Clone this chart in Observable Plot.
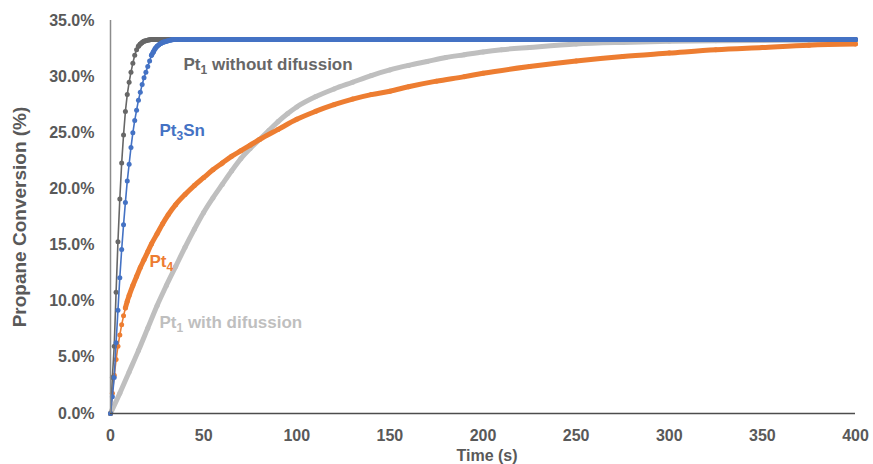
<!DOCTYPE html>
<html>
<head>
<meta charset="utf-8">
<script src="https://cdn.jsdelivr.net/npm/d3@7"></script>
<script src="https://cdn.jsdelivr.net/npm/@observablehq/plot@0.6"></script>
<style>
  html, body { margin: 0; padding: 0; background: #fff; }
</style>
</head>
<body>
<div id="chart"></div>
<script>
// ---- Data ----
// Pt1 without difussion
const pt1NoDiffTime = [0,1,2,3,4,5,6,7,8,9,10,11,12,13,14,15,16,17,18,19,20,21,22,23,24,25,30,40,60,100,150,200,250,300,350,400];
const pt1NoDiffConv = [0,3.2,6.0,10.8,15.3,19.1,22.3,24.8,26.9,28.4,29.5,30.4,31.2,31.9,32.4,32.7,32.9,33.05,33.15,33.2,33.25,33.28,33.3,33.3,33.3,33.3,33.3,33.3,33.3,33.3,33.3,33.3,33.3,33.3,33.3,33.3];

// Pt3Sn
const pt3SnTime = [0,1,2,3,4,5,6,7,8,9,10,11,12,13,14,15,16,17,18,19,20,21,22,23,24,25,26,27,28,29,30,31,32,33,34,35,40,50,60,100,150,200,250,300,350,400];
const pt3SnConv = [0,1.5,3.2,6.3,9.2,12.1,14.6,16.8,18.8,20.7,22.2,23.7,25.0,26.1,27.0,27.9,28.6,29.3,29.9,30.4,30.9,31.4,31.9,32.2,32.5,32.7,32.85,32.95,33.05,33.1,33.15,33.2,33.25,33.28,33.3,33.3,33.3,33.3,33.3,33.3,33.3,33.3,33.3,33.3,33.3,33.3];

// Pt4
const pt4Time = [0,1,2,3,4,5,6,7,8,9,10,12,14,16,18,20,22,25,28,31,35,40,45,50,55,60,65,70,75,80,90,100,110,120,130,140,150,160,175,190,200,225,250,275,300,325,350,375,400];
const pt4Conv = [0,1.8,3.4,4.8,6.0,7.0,7.9,8.7,9.4,10.0,10.5,11.4,12.2,13.0,13.7,14.4,15.1,16.0,16.9,17.7,18.6,19.5,20.3,21.0,21.7,22.3,22.9,23.4,23.9,24.4,25.3,26.2,26.9,27.5,28.0,28.4,28.7,29.1,29.6,30.0,30.3,30.9,31.4,31.8,32.1,32.4,32.6,32.8,32.9];

// Pt1 with difussion
const pt1DiffTime = [0,5,10,15,20,25,30,35,40,45,50,55,60,65,70,75,80,85,90,95,100,110,120,130,140,150,160,170,180,190,200,210,225,250,275,300,325,350,375,400];
const pt1DiffConv = [0,1.8,3.7,5.6,7.6,9.6,11.4,13.1,14.8,16.4,17.9,19.2,20.4,21.6,22.7,23.6,24.4,25.2,26.0,26.7,27.3,28.2,28.9,29.5,30.1,30.6,31.0,31.35,31.7,31.95,32.2,32.4,32.6,32.9,33.05,33.15,33.2,33.22,33.25,33.27];

// Tick values
const xTicks = [0,50,100,150,200,250,300,350,400];
const yTicks = [0,5,10,15,20,25,30,35];

// ---- Build tables ----
const toRows = (times, vals) => times.map((t, i) => ({t, v: vals[i]}));
const noDiff = toRows(pt1NoDiffTime, pt1NoDiffConv);
const sn = toRows(pt3SnTime, pt3SnConv);
const pt4 = toRows(pt4Time, pt4Conv);
const diff = toRows(pt1DiffTime, pt1DiffConv);

const C = {dark: "#676767", blue: "#4472C4", orange: "#ED7D31", light: "#BFBFBF"};

const labels = [
  {pre: "Pt", sub: "1", post: " without difussion", t: 39.2, v: 31.1, color: C.dark},
  {pre: "Pt", sub: "3", post: "Sn", t: 26.3, v: 25.2, color: C.blue},
  {pre: "Pt", sub: "4", post: "", t: 20.9, v: 13.5, color: C.orange},
  {pre: "Pt", sub: "1", post: " with difussion", t: 26.3, v: 8.1, color: C.light}
];

function seriesMarks(rows, color, thickFrom) {
  return [
    Plot.line(rows, {x: "t", y: "v", stroke: color, strokeWidth: 1.6}),
    Plot.line(rows.filter(d => d.t >= thickFrom), {x: "t", y: "v", stroke: color, strokeWidth: 5, strokeLinecap: "round", strokeLinejoin: "round", curve: "monotone-x"}),
    Plot.dot(rows, {x: "t", y: "v", r: 2.5, fill: color, stroke: "none"})
  ];
}

const plot = Plot.plot({
  width: 873,
  height: 464,
  marginLeft: 110,
  marginRight: 18,
  marginTop: 20,
  marginBottom: 51,
  style: {fontFamily: "'Liberation Sans', Arial, sans-serif", fontSize: "16px", fontWeight: "bold", color: "#595959", background: "#fff"},
  x: {domain: [0, 400], ticks: xTicks, tickSize: 0, tickPadding: 16, label: null},
  y: {domain: [0, 35], ticks: yTicks, tickSize: 0, tickPadding: 16, label: null, tickFormat: d => d.toFixed(1) + "%"},
  marks: [
    ...seriesMarks(diff, C.light, 0),
    ...seriesMarks(pt4, C.orange, 8),
    ...seriesMarks(noDiff, C.dark, 15),
    ...seriesMarks(sn, C.blue, 22),
    Plot.ruleX([0], {stroke: "#8c8c8c", strokeWidth: 1.5}),
    Plot.ruleY([0], {stroke: "#4d4d4d", strokeWidth: 1.5}),
    ...labels.map(l => Plot.text([l], {x: "t", y: "v", text: d => d.pre + d.sub + d.post, fill: l.color, textAnchor: "start", fontSize: 17, fontWeight: "bold"})),
    Plot.text(["Time (s)"], {frameAnchor: "bottom", lineAnchor: "middle", textAnchor: "middle", dy: 42, dx: 4, text: d => d, fill: "#595959", fontSize: 16, fontWeight: "bold"}),
    Plot.text(["Propane Conversion (%)"], {frameAnchor: "left", lineAnchor: "middle", textAnchor: "middle", dx: -91, rotate: -90, text: d => d, fill: "#595959", fontSize: 19, fontWeight: "bold"})
  ]
});

// Subscripts for the series labels
plot.querySelectorAll("text").forEach(el => {
  const l = labels.find(l => el.textContent === l.pre + l.sub + l.post);
  if (!l) return;
  while (el.firstChild) el.removeChild(el.firstChild);
  const ns = "http://www.w3.org/2000/svg";
  const a = document.createElementNS(ns, "tspan"); a.textContent = l.pre;
  const b = document.createElementNS(ns, "tspan"); b.textContent = l.sub;
  b.setAttribute("dy", "4"); b.setAttribute("font-size", "12");
  el.appendChild(a); el.appendChild(b);
  if (l.post) {
    const c = document.createElementNS(ns, "tspan"); c.textContent = l.post;
    c.setAttribute("dy", "-4");
    el.appendChild(c);
  }
});

document.getElementById("chart").appendChild(plot);
</script>
</body>
</html>
